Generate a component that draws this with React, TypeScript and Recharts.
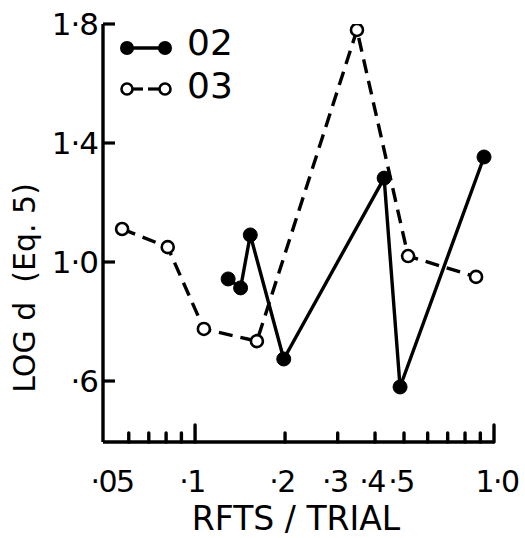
import React from 'react';
import { LineChart, Line, XAxis, YAxis } from 'recharts';

const rfts02 = [0.129, 0.142, 0.153, 0.198, 0.429, 0.485, 0.926];
const logd02 = [0.943, 0.913, 1.091, 0.674, 1.282, 0.58, 1.353];
const rfts03 = [0.057, 0.081, 0.107, 0.161, 0.348, 0.516, 0.871];
const logd03 = [1.111, 1.05, 0.775, 0.734, 1.78, 1.02, 0.95];

const xTicks = [0.06, 0.07, 0.08, 0.09, 0.1, 0.2, 0.3, 0.4, 0.5, 0.6, 0.7, 0.8, 0.9, 1.0, 0.0492];
const xLabels: Record<string, string> = {
  '0.0492': '·05',
  '0.1': '·1',
  '0.2': '·2',
  '0.3': '·3',
  '0.4': '·4',
  '0.5': '·5',
  '1': '1·0',
};
const xMajor = [0.1, 1.0];
const yTicks = [0.6, 1.0, 1.4, 1.8];
const yLabels = ['·6', '1·0', '1·4', '1·8'];

const series02 = rfts02.map((x, i) => ({ x, y: logd02[i] }));
const series03 = rfts03.map((x, i) => ({ x, y: logd03[i] }));

const FONT = "'DejaVu Sans', sans-serif";
const DASH = '14 8';

const XTick = (props: any) => {
  const { x, y, payload } = props;
  const v = payload.value;
  const label = xLabels[String(v)];
  const first = v < 0.05;
  const last = v >= 1;
  const len = xMajor.includes(v) ? 17 : 9;
  const dx = first ? 9 : last ? 3 : -3;
  return (
    <g>
      {!first && (
        <line x1={x} y1={y} x2={x} y2={y - len} stroke="#000" strokeWidth={3.4} strokeLinecap="round" />
      )}
      {label && (
        <text
          x={x + dx}
          y={y + 50}
          textAnchor="middle"
          fontFamily={FONT}
          fontSize={30}
          letterSpacing={-1.5}
          fill="#000"
        >
          {label}
        </text>
      )}
    </g>
  );
};

const YTick = (props: any) => {
  const { x, y, payload, index } = props;
  return (
    <g>
      <line x1={x} y1={y} x2={x + 12} y2={y} stroke="#000" strokeWidth={3.2} />
      <text x={x - 5} y={y + 11} textAnchor="end" fontFamily={FONT} fontSize={31} letterSpacing={-1} fill="#000">
        {yLabels[index] ?? String(payload.value)}
      </text>
    </g>
  );
};

// legend drawn inside the svg so it takes no room from the plot
const LegendBox = () => (
  <g transform="translate(115, 28)">
    <line x1={12} y1={20} x2={50} y2={20} stroke="#000" strokeWidth={3.4} />
    <circle cx={12} cy={20} r={7} fill="#000" />
    <circle cx={50} cy={20} r={7} fill="#000" />
    <text x={72} y={27} fontFamily={FONT} fontSize={36} fill="#000">
      02
    </text>
    <line x1={18} y1={61} x2={28} y2={61} stroke="#000" strokeWidth={3.2} />
    <line x1={33} y1={61} x2={44} y2={61} stroke="#000" strokeWidth={3.2} />
    <circle cx={12} cy={61} r={5.5} fill="#fff" stroke="#000" strokeWidth={2.6} />
    <circle cx={50} cy={61} r={5.5} fill="#fff" stroke="#000" strokeWidth={2.6} />
    <text x={72} y={70} fontFamily={FONT} fontSize={36} fill="#000">
      03
    </text>
  </g>
);

export default function App() {
  return (
    <div style={{ position: 'absolute', left: 0, top: 0, width: 525, height: 538, background: '#fff' }}>
      <LineChart width={525} height={538} margin={{ top: 24, right: 31, left: 102, bottom: 95 }}>
        <XAxis
          type="number"
          dataKey="x"
          scale="log"
          domain={[0.0492, 1.0]}
          allowDataOverflow
          ticks={xTicks}
          interval={0}
          height={1}
          tickSize={0}
          tickMargin={0}
          tickLine={false}
          axisLine={{ stroke: '#000', strokeWidth: 3.4 }}
          tick={(p: any) => <XTick {...p} />}
        />
        <YAxis
          type="number"
          dataKey="y"
          domain={[0.395, 1.8]}
          allowDataOverflow
          ticks={yTicks}
          interval={0}
          width={1}
          tickSize={0}
          tickMargin={0}
          tickLine={false}
          axisLine={{ stroke: '#000', strokeWidth: 3.4 }}
          tick={(p: any) => <YTick {...p} />}
        />
        <Line
          data={series02}
          dataKey="y"
          stroke="#000"
          strokeWidth={3.4}
          dot={{ r: 7, fill: '#000', stroke: '#000', strokeWidth: 1 }}
          isAnimationActive={false}
        />
        <Line
          data={series03}
          dataKey="y"
          stroke="#000"
          strokeWidth={3.4}
          strokeDasharray={DASH}
          dot={{ r: 6, fill: '#fff', stroke: '#000', strokeWidth: 2.6, strokeDasharray: '' }}
          isAnimationActive={false}
        />
        <LegendBox />
        <text
          x={24}
          y={288}
          transform="rotate(-90 24 288)"
          textAnchor="middle"
          dominantBaseline="central"
          fontFamily={FONT}
          fontSize={30}
          fill="#000"
        >
          {'LOG d\u00a0\u00a0(Eq. 5)'}
        </text>
        <text x={296} y={530} textAnchor="middle" fontFamily={FONT} fontSize={33} fill="#000">
          RFTS / TRIAL
        </text>
      </LineChart>
    </div>
  );
}
